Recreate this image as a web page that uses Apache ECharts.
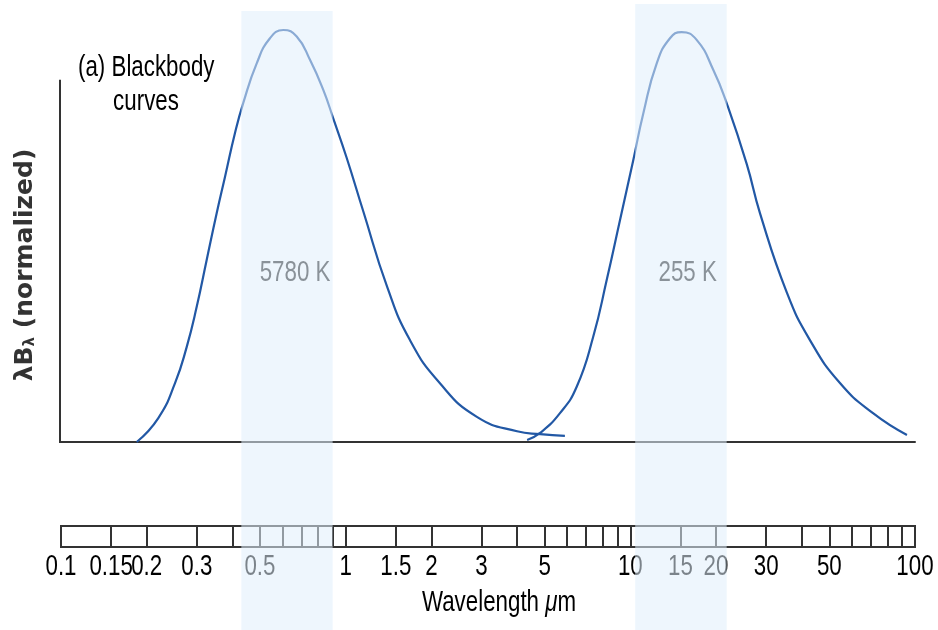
<!DOCTYPE html>
<html>
<head>
<meta charset="utf-8">
<script src="https://cdn.jsdelivr.net/npm/echarts@6/dist/echarts.min.js"></script>
<style>
html, body { margin: 0; padding: 0; background: #fff; }
#chart { width: 938px; height: 630px; }
</style>
</head>
<body>
<div id="chart"></div>
<script>
// [wavelength um, normalized lambda*B]
const sunCurve = [
    [0.1845, 0.0], [0.2197, 0.058], [0.2515, 0.143], [0.2765, 0.231], [0.2997, 0.328],
    [0.3249, 0.442], [0.3524, 0.556], [0.3769, 0.644], [0.4085, 0.750], [0.4368, 0.823],
    [0.487, 0.919], [0.542, 0.980], [0.604, 1.0], [0.673, 0.984], [0.750, 0.927],
    [0.835, 0.854], [0.905, 0.785], [1.008, 0.690], [1.153, 0.560], [1.40, 0.376],
    [1.68, 0.248], [2.14, 0.143], [2.89, 0.061], [4.0, 0.026], [4.82, 0.019], [5.89, 0.015]
];
const earthCurve = [
    [4.34, 0.005], [4.82, 0.022], [5.66, 0.07], [6.48, 0.134], [7.41, 0.256],
    [8.26, 0.393], [9.20, 0.539], [10.24, 0.684], [11.11, 0.798], [12.38, 0.919],
    [13.78, 0.980], [15.14, 0.995], [17.10, 0.976], [19.57, 0.903], [21.81, 0.822],
    [25.63, 0.675], [28.55, 0.555], [35.5, 0.362], [42.7, 0.248], [54.5, 0.143],
    [71.2, 0.070], [93.7, 0.017]
];
const rulerTicks = [
    0.15, 0.2, 0.3, 0.4, 0.5, 0.6, 0.7, 0.8, 0.9,
    1, 1.5, 2, 3, 4, 5, 6, 7, 8, 9,
    10, 15, 20, 30, 40, 50, 60, 70, 80, 90
];
const rulerLabels = [0.1, 0.15, 0.2, 0.3, 0.5, 1, 1.5, 2, 3, 5, 10, 15, 20, 30, 50, 100];
const bands = [[0.43, 0.90], [10.4, 21.8]];
const curveNames = ['5780 K', '255 K'];
const curveNameSpots = [[0.664, 0.41], [15.9, 0.41]];

// no narrow face installed, so Liberation Sans is squeezed with scaleX
const sans = '"Liberation Sans", Arial, sans-serif';
const squeeze = 0.77;
const lineBlue = '#2258a5';
const inkColor = '#333';

const chart = echarts.init(document.getElementById('chart'));

function squeezedText(x, y, text, extra) {
    return Object.assign({
        type: 'text', x: x, y: y, scaleX: squeeze,
        style: { text: text, fontFamily: sans, fontSize: 29, fill: '#000', align: 'center', verticalAlign: 'middle' }
    }, extra || {});
}

chart.setOption({
    animation: false,
    grid: [
        { left: 61, right: 23, top: 30, bottom: 188 },
        { left: 61, right: 23, top: 526, height: 21, show: true, borderColor: inkColor, borderWidth: 2 }
    ],
    xAxis: [
        {
            type: 'log', logBase: 10, min: 0.1, max: 100, gridIndex: 0,
            axisLine: { lineStyle: { color: inkColor, width: 2 } },
            axisTick: { show: false },
            axisLabel: { show: false },
            splitLine: { show: false }
        },
        {
            type: 'log', logBase: 10, min: 0.1, max: 100, gridIndex: 1,
            axisLine: { show: false },
            axisTick: {
                show: true, inside: true, length: 21,
                customValues: rulerTicks,
                lineStyle: { color: inkColor, width: 2 }
            },
            axisLabel: { show: false },
            splitLine: { show: false }
        }
    ],
    yAxis: [
        { type: 'value', min: 0, max: 1, gridIndex: 0, show: false },
        { type: 'value', min: 0, max: 1, gridIndex: 1, show: false }
    ],
    series: [
        {
            type: 'line', data: sunCurve, smooth: 0.5, symbol: 'none', clip: false,
            lineStyle: { color: lineBlue, width: 2.2 }
        },
        {
            type: 'line', data: earthCurve, smooth: 0.5, symbol: 'none', clip: false,
            lineStyle: { color: lineBlue, width: 2.2 }
        },
        {
            // temperature labels inside the bands
            type: 'custom', xAxisIndex: 0, yAxisIndex: 0,
            data: curveNameSpots,
            renderItem: (params, api) => {
                const p = api.coord([api.value(0), api.value(1)]);
                return squeezedText(p[0], p[1], curveNames[params.dataIndex], {
                    style: { text: curveNames[params.dataIndex], fontFamily: sans, fontSize: 29, fill: '#222', align: 'center', verticalAlign: 'middle' }
                });
            }
        },
        {
            // ruler numbers
            type: 'custom', xAxisIndex: 1, yAxisIndex: 1,
            data: rulerLabels.map(v => [v, 0]),
            renderItem: (params, api) => {
                const p = api.coord([api.value(0), 0]);
                return squeezedText(p[0], p[1] + 20, String(rulerLabels[params.dataIndex]));
            }
        }
    ]
});

const xPx = v => chart.convertToPixel({ xAxisIndex: 0 }, v);
const yPx = v => chart.convertToPixel({ yAxisIndex: 0 }, v);
const bandTops = [11, 4];

const graphics = bands.map((b, i) => ({
    type: 'rect', z: 100, silent: true,
    shape: { x: xPx(b[0]), y: bandTops[i], width: xPx(b[1]) - xPx(b[0]), height: 630 - bandTops[i] },
    style: { fill: '#e0effc', opacity: 0.55 }
}));

graphics.push(
    {
        type: 'line', z: 10,
        shape: { x1: 60, y1: yPx(0.879), x2: 60, y2: yPx(0) + 1 },
        style: { stroke: inkColor, lineWidth: 2 }
    },
    squeezedText(78, 68, '(a) Blackbody', { z: 10, style: { text: '(a) Blackbody', fontFamily: sans, fontSize: 29, fill: '#000', align: 'left', verticalAlign: 'middle' } }),
    squeezedText(146, 102, 'curves', { z: 10 }),
    squeezedText(499, 603, '', {
        z: 10,
        style: {
            text: '{t|Wavelength }{u|\u03bc}{t|m}',
            align: 'center', verticalAlign: 'middle',
            rich: {
                t: { fontFamily: sans, fontSize: 29, fill: '#000' },
                u: { fontFamily: sans, fontSize: 29, fontStyle: 'italic', fill: '#000' }
            }
        }
    }),
    {
        type: 'text', z: 10, x: 25, y: 265, rotation: Math.PI / 2,
        style: {
            text: '{a|\u03bbB}{s|\u03bb}{a| (normalized)}',
            align: 'center', verticalAlign: 'middle',
            rich: {
                a: { fontFamily: '"DejaVu Sans", sans-serif', fontWeight: 'bold', fontSize: 25, fill: inkColor },
                s: { fontFamily: '"DejaVu Sans", sans-serif', fontWeight: 'bold', fontSize: 15, fill: inkColor, padding: [11, 0, 0, 0] }
            }
        }
    }
);

chart.setOption({ graphic: graphics });
</script>
</body>
</html>
